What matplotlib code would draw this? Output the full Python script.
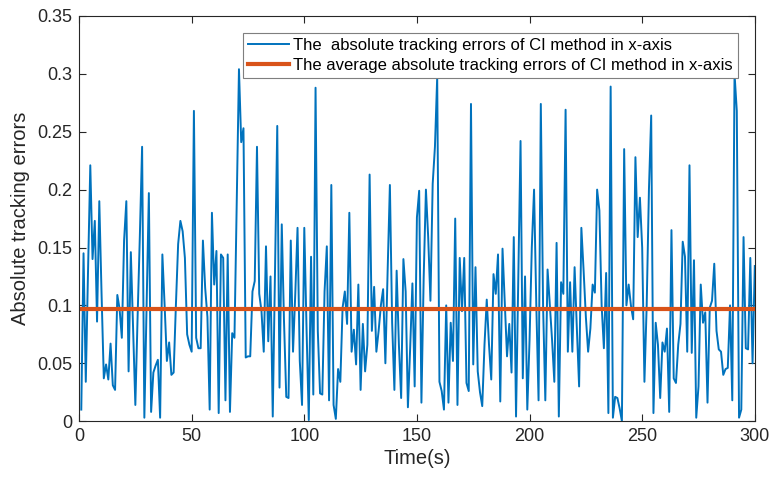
import matplotlib.pyplot as plt
from matplotlib.ticker import FuncFormatter

plt.rcParams['font.family'] = ['Liberation Sans', 'DejaVu Sans']

# absolute tracking errors, one sample per second (t = 1..300)
time_s = list(range(1, 301))
abs_err = [
    0.010, 0.145, 0.034, 0.130, 0.221, 0.140, 0.173, 0.086, 0.190, 0.110,
    0.037, 0.049, 0.036, 0.067, 0.031, 0.027, 0.109, 0.097, 0.072, 0.156,
    0.190, 0.043, 0.146, 0.080, 0.014, 0.090, 0.160, 0.237, 0.003, 0.100,
    0.197, 0.008, 0.042, 0.048, 0.053, 0.003, 0.144, 0.100, 0.052, 0.068,
    0.040, 0.042, 0.100, 0.153, 0.173, 0.164, 0.141, 0.075, 0.066, 0.060,
    0.268, 0.072, 0.063, 0.063, 0.156, 0.115, 0.090, 0.010, 0.180, 0.118,
    0.147, 0.007, 0.144, 0.141, 0.018, 0.144, 0.008, 0.076, 0.072, 0.190,
    0.304, 0.241, 0.253, 0.055, 0.056, 0.056, 0.112, 0.121, 0.237, 0.110,
    0.095, 0.060, 0.151, 0.069, 0.125, 0.004, 0.130, 0.255, 0.029, 0.170,
    0.086, 0.021, 0.020, 0.156, 0.060, 0.110, 0.167, 0.052, 0.014, 0.167,
    0.080, 0.001, 0.142, 0.023, 0.288, 0.078, 0.024, 0.023, 0.112, 0.151,
    0.018, 0.204, 0.014, 0.002, 0.045, 0.034, 0.098, 0.112, 0.084, 0.180,
    0.060, 0.079, 0.049, 0.118, 0.027, 0.084, 0.043, 0.066, 0.213, 0.078,
    0.116, 0.060, 0.078, 0.100, 0.114, 0.050, 0.130, 0.204, 0.085, 0.027,
    0.130, 0.066, 0.020, 0.140, 0.112, 0.012, 0.063, 0.119, 0.030, 0.176,
    0.199, 0.016, 0.124, 0.200, 0.159, 0.104, 0.205, 0.237, 0.297, 0.034,
    0.026, 0.010, 0.100, 0.016, 0.085, 0.052, 0.175, 0.014, 0.141, 0.095,
    0.141, 0.033, 0.026, 0.274, 0.049, 0.133, 0.043, 0.025, 0.013, 0.066,
    0.105, 0.066, 0.036, 0.127, 0.110, 0.144, 0.017, 0.149, 0.102, 0.056,
    0.084, 0.042, 0.159, 0.004, 0.124, 0.242, 0.037, 0.125, 0.010, 0.070,
    0.150, 0.200, 0.100, 0.018, 0.274, 0.100, 0.018, 0.131, 0.100, 0.070,
    0.034, 0.154, 0.004, 0.120, 0.110, 0.269, 0.060, 0.120, 0.060, 0.133,
    0.080, 0.030, 0.167, 0.130, 0.090, 0.060, 0.080, 0.118, 0.111, 0.200,
    0.182, 0.100, 0.063, 0.128, 0.007, 0.289, 0.003, 0.021, 0.020, 0.011,
    0.000, 0.235, 0.100, 0.118, 0.100, 0.088, 0.228, 0.159, 0.193, 0.150,
    0.034, 0.100, 0.200, 0.264, 0.007, 0.085, 0.066, 0.020, 0.068, 0.060,
    0.080, 0.008, 0.165, 0.037, 0.033, 0.066, 0.084, 0.155, 0.142, 0.060,
    0.221, 0.059, 0.139, 0.003, 0.030, 0.118, 0.085, 0.094, 0.016, 0.098,
    0.104, 0.136, 0.078, 0.062, 0.060, 0.040, 0.045, 0.046, 0.100, 0.018,
    0.300, 0.268, 0.003, 0.010, 0.159, 0.063, 0.062, 0.141, 0.050, 0.134,
]
avg_err = 0.097

fig = plt.figure(figsize=(7.71, 4.83), dpi=100)
ax = fig.add_axes([0.1025, 0.128, 0.8765, 0.839])

ax.plot(time_s, abs_err, color='#0072BD', lw=1.4,
        label='The  absolute tracking errors of CI method in x-axis')
ax.plot([0, 300], [avg_err, avg_err], color='#D95319', lw=3,
        label='The average absolute tracking errors of CI method in x-axis')

ax.set_xlim(0, 300)
ax.set_ylim(0, 0.35)
ax.set_xticks(range(0, 301, 50))
ax.set_yticks([0, 0.05, 0.1, 0.15, 0.2, 0.25, 0.3, 0.35])
ax.yaxis.set_major_formatter(FuncFormatter(lambda v, p: '0' if v == 0 else f'{v:g}'))
ax.tick_params(direction='in', top=True, right=True, labelsize=13,
               colors='#262626', length=5, width=0.8, pad=5)
for s in ax.spines.values():
    s.set_color('#262626')
    s.set_linewidth(0.8)

ax.set_xlabel('Time(s)', fontsize=14.5, color='#262626', labelpad=3)
ax.set_ylabel('Absolute tracking errors', fontsize=14.5, color='#262626', labelpad=5)

leg = ax.legend(loc='upper right', bbox_to_anchor=(0.975, 0.958), fontsize=12,
                fancybox=False, framealpha=1, edgecolor='#7f7f7f',
                borderpad=0.3, labelspacing=0.3, handlelength=2.45,
                handletextpad=0.25, borderaxespad=0)
leg.get_frame().set_linewidth(0.8)

fig.savefig('out.png', dpi=100)
